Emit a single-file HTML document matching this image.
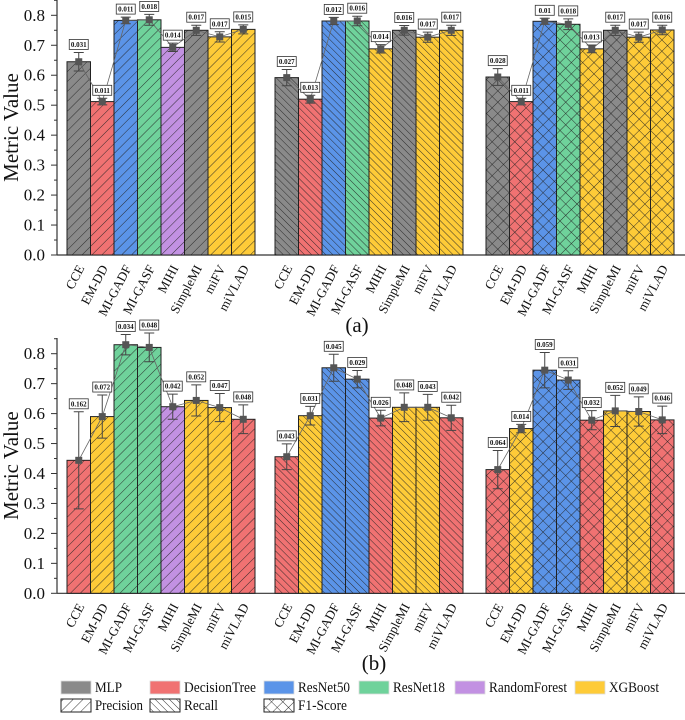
<!DOCTYPE html>
<html><head><meta charset="utf-8"><style>
html,body{margin:0;padding:0;background:#fff;}
svg, svg text{font-family:"Times New Roman","Liberation Serif",Times,serif;}
</style></head><body>
<svg id="c" width="685" height="715" xmlns="http://www.w3.org/2000/svg">
<defs>
<pattern id="p-prec" patternUnits="userSpaceOnUse" width="7" height="7" patternTransform="rotate(45)"><line x1="0" y1="0" x2="0" y2="7" stroke="#222" stroke-width="0.9"/></pattern>
<pattern id="p-rec" patternUnits="userSpaceOnUse" width="5" height="5" patternTransform="rotate(-45)"><line x1="0" y1="0" x2="0" y2="5" stroke="#222" stroke-width="0.9"/></pattern>
<pattern id="p-f1" patternUnits="userSpaceOnUse" width="8" height="8" patternTransform="rotate(45)"><line x1="0" y1="0" x2="0" y2="8" stroke="#222" stroke-width="0.9"/><line x1="0" y1="0" x2="8" y2="0" stroke="#222" stroke-width="0.9"/></pattern>
</defs>
</svg>
<script>
const categories=["CCE","EM-DD","MI-GADF","MI-GASF","MIHI","SimpleMI","miFV","miVLAD"];
const metrics=["Precision","Recall","F1-Score"];
const modelNames=["MLP","DecisionTree","ResNet50","ResNet18","RandomForest","XGBoost"];
const modelColors={MLP:"#8a8a8a",DecisionTree:"#f07272",ResNet50:"#5b94e8",ResNet18:"#6fd29b",RandomForest:"#c291e2",XGBoost:"#fecb38"};
// Panel (a)
const aValues=[[0.645,0.512,0.783,0.785,0.693,0.750,0.728,0.753],[0.592,0.520,0.781,0.781,0.688,0.750,0.727,0.750],[0.594,0.512,0.780,0.770,0.688,0.750,0.727,0.751]];
const aErrors=[[0.031,0.011,0.011,0.018,0.014,0.017,0.017,0.015],[0.027,0.013,0.012,0.016,0.014,0.016,0.017,0.017],[0.028,0.011,0.01,0.018,0.013,0.017,0.017,0.016]];
const aModels=[["MLP","DecisionTree","ResNet50","ResNet18","RandomForest","MLP","XGBoost","XGBoost"],["MLP","DecisionTree","ResNet50","ResNet18","XGBoost","MLP","XGBoost","XGBoost"],["MLP","DecisionTree","ResNet50","ResNet18","XGBoost","MLP","XGBoost","XGBoost"]];
// Panel (b)
const bValues=[[0.444,0.590,0.830,0.821,0.623,0.644,0.620,0.581],[0.456,0.593,0.753,0.715,0.585,0.621,0.621,0.586],[0.413,0.550,0.745,0.712,0.578,0.609,0.607,0.579]];
const bErrors=[[0.162,0.072,0.034,0.048,0.042,0.052,0.047,0.048],[0.043,0.031,0.045,0.029,0.026,0.048,0.043,0.042],[0.064,0.014,0.059,0.031,0.032,0.052,0.049,0.046]];
const bModels=[["DecisionTree","XGBoost","ResNet18","ResNet18","RandomForest","XGBoost","XGBoost","DecisionTree"],["DecisionTree","XGBoost","ResNet50","ResNet50","DecisionTree","XGBoost","XGBoost","DecisionTree"],["DecisionTree","XGBoost","ResNet50","ResNet50","DecisionTree","XGBoost","XGBoost","DecisionTree"]];
const yTicks=[0,0.1,0.2,0.3,0.4,0.5,0.6,0.7,0.8];
const yTickLabels=["0.0","0.1","0.2","0.3","0.4","0.5","0.6","0.7","0.8"];

const NS="http://www.w3.org/2000/svg";
const svg=document.getElementById("c");
function mk(tag,attrs,parent,text){const e=document.createElementNS(NS,tag);for(const k in attrs)e.setAttribute(k,attrs[k]);if(text!==undefined)e.textContent=text;(parent||svg).appendChild(e);return e;}
const patIds=["p-prec","p-rec","p-f1"];
const groupStarts=[67,275,486];
const barW=23.5;

function panel(vals,errs,mods,y0,y08,yTop,label,labelX,labelY,pname){
  const g=mk("g",{});
  
  
  const yScale=v=>y0-(y0-y08)*v/0.8;
  const xScale=(gi,ci)=>groupStarts[gi]+ci*barW;
  const ax=mk("line",{x1:57,y1:yTop,x2:57,y2:y0,stroke:"#333","stroke-width":1.2},g);
  
  const bx=mk("line",{x1:57,y1:y0,x2:685,y2:y0,stroke:"#333","stroke-width":1.2},g);
  
  for(let i=0;i<yTicks.length;i++){
    const y=yScale(yTicks[i]);
    mk("line",{x1:51,y1:y,x2:57,y2:y,stroke:"#333","stroke-width":1},g);
    const t=mk("text",{x:45,y:y+5.5,"text-anchor":"end","font-size":17,fill:"#111"},g,yTickLabels[i]);
    
    const ym=yScale(yTicks[i]+0.05);
    if(ym>yTop) mk("line",{x1:54,y1:ym,x2:57,y2:ym,stroke:"#333","stroke-width":1},g);
  }
  const yt=mk("text",{x:0,y:0,"text-anchor":"middle","font-size":21,fill:"#111",transform:`translate(18,${(y0+yTop)/2}) rotate(-90)`},g,"Metric Value");
  
  for(let gi=0;gi<3;gi++){
    const pts=[];
    for(let ci=0;ci<categories.length;ci++){
      const x=xScale(gi,ci),v=vals[gi][ci],y=yScale(v);
      const r=mk("rect",{x:x,y:y,width:barW,height:y0-y,fill:modelColors[mods[gi][ci]]},g);
      
      
      mk("rect",{x:x,y:y,width:barW,height:y0-y,fill:`url(#${patIds[gi]})`,stroke:"#222","stroke-width":1},g);
      pts.push([x+barW/2,y]);
      const lab=mk("text",{x:0,y:0,"text-anchor":"end","font-size":13,fill:"#111",transform:`translate(${x+barW/2+6},${y0+13}) rotate(-62)`},g,categories[ci]);
      
    }
    mk("polyline",{points:pts.map(p=>p.join(",")).join(" "),fill:"none",stroke:"#666","stroke-width":0.8},g);
    for(let ci=0;ci<categories.length;ci++){
      const cx=pts[ci][0],e=errs[gi][ci],v=vals[gi][ci];
      const yh=yScale(v+e),yl=yScale(v-e);
      const eb=mk("path",{d:`M${cx},${yh}V${yl}M${cx-5},${yh}H${cx+5}M${cx-5},${yl}H${cx+5}`,stroke:"#444","stroke-width":1,fill:"none"},g);
      
      mk("rect",{x:cx-3.5,y:pts[ci][1]-3.5,width:7,height:7,fill:"#555"},g);
      const bw=19,bh=10,by=yh-bh-3;
      mk("rect",{x:cx-bw/2,y:by,width:bw,height:bh,fill:"#fff",stroke:"#333","stroke-width":0.8},g);
      const et=mk("text",{x:cx,y:by+7.5,"text-anchor":"middle","font-size":7,"font-weight":"bold",fill:"#111"},g,String(e));
      
    }
  }
  const pl=mk("text",{x:labelX,y:labelY,"text-anchor":"middle","font-size":21,fill:"#111"},g,label);
  
}
panel(aValues,aErrors,aModels,255,15.3,0,"(a)",357,332,"panel-a");
panel(bValues,bErrors,bModels,593.3,353.7,338,"(b)",374,670,"panel-b");

const lg=mk("g",{});


const legX=[61,150,264,359,455,575];
const legW=[27,72,52,52,78,50];
const metW=[48,34,49];
for(let i=0;i<modelNames.length;i++){
  const r=mk("rect",{x:legX[i],y:681,width:30,height:13,fill:modelColors[modelNames[i]],stroke:"#ddd","stroke-width":0.8},lg);
  
  const t=mk("text",{x:legX[i]+34,y:692,"font-size":14.5,fill:"#111",textLength:legW[i],lengthAdjust:"spacingAndGlyphs"},lg,modelNames[i]);
  
}
for(let i=0;i<metrics.length;i++){
  const x=legX[i];
  const r=mk("rect",{x:x,y:699,width:30,height:13,fill:`url(#${patIds[i]})`,stroke:"#222","stroke-width":1},lg);
  
  const t=mk("text",{x:x+34,y:710,"font-size":14.5,fill:"#111",textLength:metW[i],lengthAdjust:"spacingAndGlyphs"},lg,metrics[i]);
  
}
</script>
</body></html>
